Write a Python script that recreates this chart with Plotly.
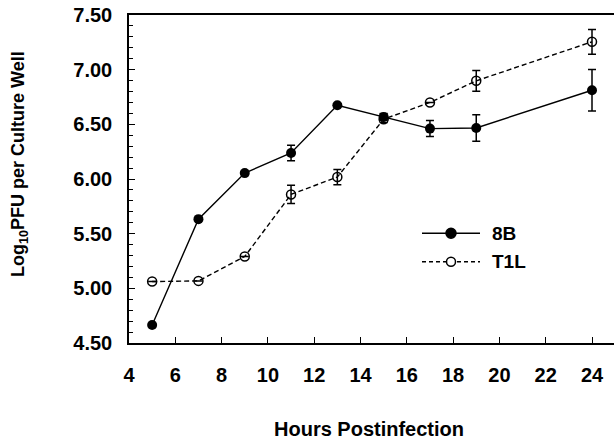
import plotly.graph_objects as go

hours = [5, 7, 9, 11, 13, 15, 17, 19, 24]
b8_vals = [4.665, 5.633, 6.054, 6.238, 6.675, 6.568, 6.461, 6.467, 6.812]
b8_err = [0.0, 0.0, 0.0, 0.07, 0.0, 0.03, 0.073, 0.121, 0.19]
t1l_vals = [5.062, 5.068, 5.291, 5.859, 6.018, 6.547, 6.70, 6.898, 7.255]
t1l_err = [0.0, 0.0, 0.0, 0.083, 0.07, 0.03, 0.0, 0.095, 0.113]
x_ticks = [4, 6, 8, 10, 12, 14, 16, 18, 20, 22, 24]
y_ticks = [4.5, 5.0, 5.5, 6.0, 6.5, 7.0, 7.5]
y_tick_text = ["4.50", "5.00", "5.50", "6.00", "6.50", "7.00", "7.50"]

FONT = "Liberation Sans"
W, H = 614, 442
L, R, T, B = 129, 0, 15, 99

fig = go.Figure()
fig.add_trace(go.Scatter(
    x=hours, y=t1l_vals, mode="lines+markers", name="T1L",
    line=dict(color="black", width=1.4, dash="5px,3px"),
    marker=dict(symbol="circle-open", size=9, color="black", line=dict(width=1.5)),
    error_y=dict(type="data", array=t1l_err, color="black", thickness=1.5, width=4),
    showlegend=False,
))
fig.add_trace(go.Scatter(
    x=hours, y=b8_vals, mode="lines+markers", name="8B",
    line=dict(color="black", width=1.4),
    marker=dict(symbol="circle", size=10, color="black"),
    error_y=dict(type="data", array=b8_err, color="black", thickness=1.5, width=4),
    showlegend=False,
))

# manual legend keys (paper coordinates computed from pixel positions)
def px(xp):
    return (xp - L) / (W - L - R)

def py(yp):
    return 1 - (yp - T) / (H - T - B)

legend_items = [("8B", "solid", 233.3, "circle"), ("T1L", "dash", 261.7, "open")]
shapes = []
annotations = []
for name, dash, yy, mk in legend_items:
    shapes.append(dict(type="line", xref="paper", yref="paper",
                       x0=px(422), x1=px(480), y0=py(yy), y1=py(yy),
                       line=dict(color="black", width=1.4, dash="solid" if dash == "solid" else "4px,3px")))
    r = 5 if mk == "circle" else 4.5
    shapes.append(dict(type="circle", xref="paper", yref="paper",
                       x0=px(451 - r), x1=px(451 + r), y0=py(yy + r), y1=py(yy - r),
                       fillcolor="black" if mk == "circle" else "white",
                       line=dict(color="black", width=1.5)))
    annotations.append(dict(x=px(490), y=py(yy), xref="paper", yref="paper",
                            text="<b>%s</b>" % name, showarrow=False, xanchor="left", yanchor="middle",
                            font=dict(family=FONT, size=19, color="black")))

annotations.append(dict(x=px(369), y=py(429), xref="paper", yref="paper",
                        text="<b>Hours Postinfection</b>", showarrow=False,
                        xanchor="center", yanchor="middle",
                        font=dict(family=FONT, size=20, color="black")))
annotations.append(dict(x=px(19), y=py(164), xref="paper", yref="paper",
                        text="<b>Log<sub>10</sub>PFU per Culture Well</b>", showarrow=False,
                        textangle=-90, xanchor="center", yanchor="middle",
                        font=dict(family=FONT, size=18, color="black")))

fig.update_layout(
    width=W, height=H,
    margin=dict(l=L, r=R, t=T, b=B, pad=0),
    plot_bgcolor="white", paper_bgcolor="white",
    font=dict(family=FONT, size=20, color="black"),
    shapes=shapes, annotations=annotations,
    showlegend=False,
)
fig.update_xaxes(
    range=[4, 4 + (W - L - R) / 23.15], tickvals=x_ticks,
    ticktext=["<b>%d</b>" % v for v in x_ticks],
    showline=True, linecolor="black", linewidth=1.5, mirror=True,
    ticks="inside", ticklen=6, tickwidth=1.2, tickcolor="black",
    showgrid=False, zeroline=False, ticklabelstandoff=13,
    tickfont=dict(family=FONT, size=20, color="black"),
)
fig.update_yaxes(
    range=[4.5, 7.5], tickvals=y_ticks, ticktext=["<b>%s</b>" % t for t in y_tick_text],
    showline=True, linecolor="black", linewidth=1.5,
    ticks="inside", ticklen=6, tickwidth=1.2, tickcolor="black",
    minor=dict(dtick=0.1, ticks="inside", ticklen=4, tickwidth=1, tickcolor="black", showgrid=False),
    showgrid=False, zeroline=False, ticklabelstandoff=11,
    tickfont=dict(family=FONT, size=20, color="black"),
)

fig.write_html("out.html")
